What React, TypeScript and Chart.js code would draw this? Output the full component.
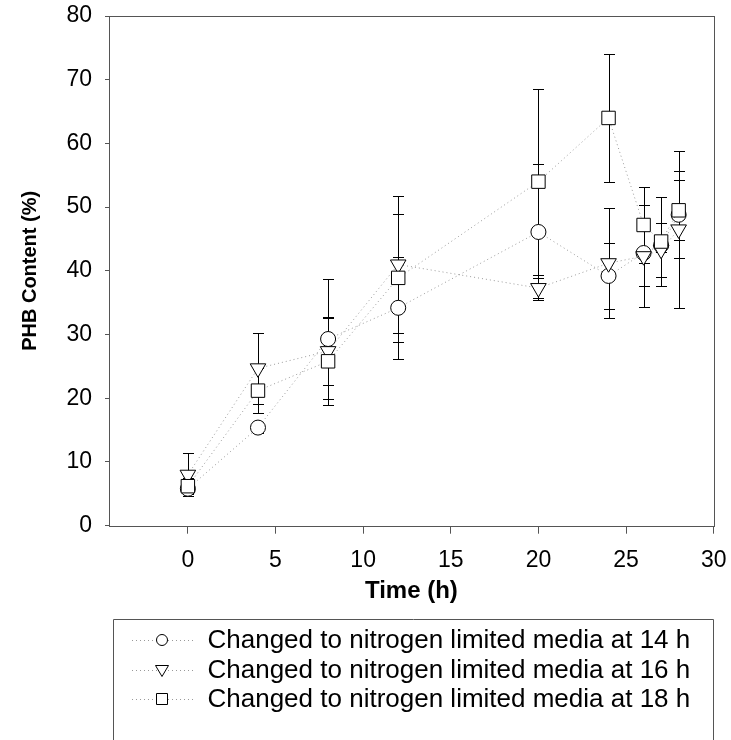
import React, { useEffect, useRef } from 'react';
import { Chart, registerables } from 'chart.js';

Chart.register(...registerables);

const TIME_H = [0, 4, 8, 12, 20, 24, 26, 27, 28];
const PHB_14H = [5.8, 15.4, 29.3, 34.2, 46.1, 39.2, 42.8, 44.0, 48.8];
const ERR_14H = [0.8, 0.8, 9.4, 8.0, 10.6, 5.2, 5.2, 1.0, 6.8];
const PHB_16H = [8.0, 24.7, 27.4, 41.0, 37.3, 41.2, 42.3, 43.3, 46.5];
const ERR_16H = [3.4, 5.6, 5.3, 10.7, 1.6, 8.6, 8.0, 4.2, 12.3];
const PHB_18H = [6.2, 21.2, 25.8, 38.9, 54.0, 64.0, 47.2, 44.6, 49.5];
const ERR_18H = [1.3, 3.5, 6.8, 10.1, 14.6, 10.1, 6.0, 7.0, 4.7];

const X_TICKS = [0, 5, 10, 15, 20, 25, 30];
const Y_MIN = 0;
const Y_MAX = 80;
const Y_STEP = 10;
const X_MIN = -4.5;
const X_MAX = 30;

const SERIES_LABELS = [
  'Changed to nitrogen limited media at 14 h',
  'Changed to nitrogen limited media at 16 h',
  'Changed to nitrogen limited media at 18 h',
];
const X_TITLE = 'Time (h)';
const Y_TITLE = 'PHB Content (%)';

const FONT = '"Liberation Sans", Arial, Helvetica, sans-serif';

const errorBarPlugin = {
  id: 'errorBars',
  beforeDatasetsDraw(chart: any) {
    const { ctx } = chart;
    const xs = chart.scales.x;
    const ys = chart.scales.y;
    ctx.save();
    ctx.strokeStyle = '#000';
    ctx.lineWidth = 1;
    chart.data.datasets.forEach((ds: any) => {
      const errs: number[] = ds.errors || [];
      ds.data.forEach((p: any, j: number) => {
        const e = errs[j] || 0;
        const x = Math.round(xs.getPixelForValue(p.x)) + 0.5;
        const yt = Math.round(ys.getPixelForValue(p.y + e)) + 0.5;
        const yb = Math.round(ys.getPixelForValue(p.y - e)) + 0.5;
        ctx.beginPath();
        ctx.moveTo(x, yt);
        ctx.lineTo(x, yb);
        ctx.moveTo(x - 5.5, yt);
        ctx.lineTo(x + 5.5, yt);
        ctx.moveTo(x - 5.5, yb);
        ctx.lineTo(x + 5.5, yb);
        ctx.stroke();
      });
    });
    ctx.restore();
  },
};

const framePlugin = {
  id: 'frame',
  afterDraw(chart: any) {
    const { ctx, chartArea: a } = chart;
    ctx.save();
    ctx.strokeStyle = '#555';
    ctx.lineWidth = 1;
    ctx.strokeRect(Math.round(a.left) + 0.5, Math.round(a.top) + 0.5, Math.round(a.right - a.left), Math.round(a.bottom - a.top));
    ctx.restore();
  },
};

const legendPlugin = {
  id: 'boxLegend',
  afterDraw(chart: any) {
    const { ctx } = chart;
    const boxL = 113.5;
    const boxT = 619.5;
    const boxR = 713.5;
    const boxB = 760;
    ctx.save();
    ctx.strokeStyle = '#555';
    ctx.lineWidth = 1;
    ctx.beginPath();
    ctx.moveTo(boxL, boxB);
    ctx.lineTo(boxL, boxT);
    ctx.lineTo(boxR, boxT);
    ctx.lineTo(boxR, boxB);
    ctx.stroke();
    const rows = [640, 670, 699];
    const styles = ['circle', 'triangle', 'rect'];
    rows.forEach((ry, i) => {
      ctx.save();
      ctx.strokeStyle = '#999';
      ctx.setLineDash([1, 3]);
      ctx.beginPath();
      ctx.moveTo(132, ry + 0.5);
      ctx.lineTo(193, ry + 0.5);
      ctx.stroke();
      ctx.restore();
      const cx = 162;
      ctx.fillStyle = '#fff';
      ctx.strokeStyle = '#000';
      ctx.lineWidth = 1;
      ctx.beginPath();
      if (styles[i] === 'circle') {
        ctx.arc(cx, ry, 5.5, 0, Math.PI * 2);
      } else if (styles[i] === 'triangle') {
        ctx.moveTo(cx - 6.5, ry - 4.5);
        ctx.lineTo(cx + 6.5, ry - 4.5);
        ctx.lineTo(cx, ry + 6.5);
        ctx.closePath();
      } else {
        ctx.rect(cx - 5.5, ry - 5.5, 11, 11);
      }
      ctx.fill();
      ctx.stroke();
      ctx.fillStyle = '#000';
      ctx.font = `26px ${FONT}`;
      ctx.textBaseline = 'middle';
      ctx.textAlign = 'left';
      ctx.fillText(SERIES_LABELS[i], 207.5, ry + 1);
    });
    ctx.restore();
  },
};

function toPoints(ys: number[]) {
  return TIME_H.map((x, i) => ({ x, y: ys[i] }));
}

export default function App() {
  const ref = useRef<HTMLCanvasElement | null>(null);

  useEffect(() => {
    if (!ref.current) return;
    const common = {
      showLine: true,
      borderColor: '#9a9a9a',
      borderWidth: 1,
      borderDash: [1, 3],
      tension: 0,
      fill: false,
      pointBackgroundColor: '#fff',
      pointBorderColor: '#000',
      pointBorderWidth: 1,
      pointHoverRadius: 0,
    };
    const chart = new Chart(ref.current, {
      type: 'line',
      data: {
        datasets: [
          {
            ...common,
            label: SERIES_LABELS[0],
            data: toPoints(PHB_14H),
            errors: ERR_14H,
            pointStyle: 'circle',
            pointRadius: 7.5,
            order: 3,
          } as any,
          {
            ...common,
            label: SERIES_LABELS[1],
            data: toPoints(PHB_16H),
            errors: ERR_16H,
            pointStyle: 'triangle',
            pointRotation: 180,
            pointRadius: 9,
            order: 2,
          } as any,
          {
            ...common,
            label: SERIES_LABELS[2],
            data: toPoints(PHB_18H),
            errors: ERR_18H,
            pointStyle: 'rect',
            pointRadius: 9.5,
            order: 1,
          } as any,
        ],
      },
      options: {
        responsive: false,
        animation: false,
        devicePixelRatio: 1,
        layout: { padding: { top: 16, right: 17.3, left: 0, bottom: 0 } },
        plugins: {
          legend: { display: false },
          tooltip: { enabled: false },
        },
        scales: {
          x: {
            type: 'linear',
            min: X_MIN,
            max: X_MAX,
            afterBuildTicks: (s: any) => {
              s.ticks = X_TICKS.map((v) => ({ value: v }));
            },
            afterFit: (s: any) => {
              s.height = 214.3;
              s.paddingLeft = 0;
              s.paddingRight = 0;
            },
            border: { display: false },
            grid: {
              display: true,
              drawOnChartArea: false,
              drawTicks: true,
              tickLength: 8,
              color: '#555',
            },
            ticks: {
              color: '#000',
              font: { family: FONT, size: 23 },
              padding: 13,
              maxRotation: 0,
            },
            title: {
              display: true,
              text: X_TITLE,
              color: '#000',
              font: { family: FONT, size: 24, weight: 'bold' },
              padding: { top: 4, bottom: 134.6 },
            },
          },
          y: {
            type: 'linear',
            min: Y_MIN,
            max: Y_MAX,
            afterFit: (s: any) => {
              s.width = 109;
              s.paddingTop = 0;
              s.paddingBottom = 0;
            },
            border: { display: false },
            grid: {
              display: true,
              drawOnChartArea: false,
              drawTicks: true,
              tickLength: 4,
              color: '#555',
            },
            ticks: {
              stepSize: Y_STEP,
              color: '#000',
              font: { family: FONT, size: 23 },
              padding: 13,
            },
            title: {
              display: true,
              text: Y_TITLE,
              color: '#000',
              font: { family: FONT, size: 20, weight: 'bold' },
              padding: { top: 18, bottom: 0 },
            },
          },
        },
      } as any,
      plugins: [errorBarPlugin, framePlugin, legendPlugin],
    });
    return () => chart.destroy();
  }, []);

  return (
    <div style={{ position: 'absolute', left: 0, top: 0, width: 731, height: 740, background: '#fff' }}>
      <canvas ref={ref} width={731} height={740} style={{ display: 'block' }} />
    </div>
  );
}
